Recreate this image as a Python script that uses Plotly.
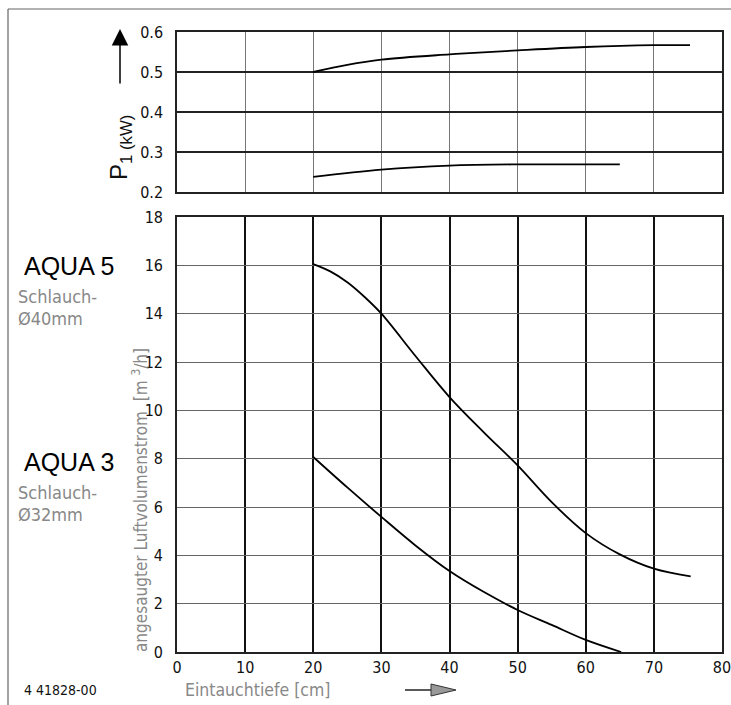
import plotly.graph_objects as go
from plotly.subplots import make_subplots

# ---- data ----
depth_aqua5 = [20, 22.5, 25, 27.5, 30, 35, 40, 45, 50, 55, 60, 65, 70, 75.4]
flow_aqua5 = [16.05, 15.75, 15.3, 14.7, 14.0, 12.25, 10.55, 9.1, 7.72, 6.2, 4.92, 4.04, 3.45, 3.13]
depth_aqua3 = [20, 25, 30, 35, 40, 45, 50, 55, 60, 65.2]
flow_aqua3 = [8.07, 6.81, 5.59, 4.41, 3.35, 2.49, 1.74, 1.12, 0.5, 0.0]

depth_p5 = [20, 25, 30, 40, 50, 60, 70, 75.3]
power_p5 = [0.50, 0.518, 0.531, 0.544, 0.554, 0.5625, 0.567, 0.567]
depth_p3 = [20, 30, 40, 50, 60, 65]
power_p3 = [0.238, 0.256, 0.266, 0.269, 0.269, 0.269]

x_ticks = [0, 10, 20, 30, 40, 50, 60, 70, 80]
flow_ticks = [0, 2, 4, 6, 8, 10, 12, 14, 16, 18]
power_ticks = [0.2, 0.3, 0.4, 0.5, 0.6]

W, H = 731, 705
L, R, T, B = 177, 9, 32, 53
PW, PH = W - L - R, H - T - B


def xp(px):
    return (px - L) / PW


def yp(py):
    return (H - B - py) / PH


FONT = "Liberation Sans Narrow, DejaVu Sans Condensed, Liberation Sans, sans-serif"

fig = make_subplots(rows=2, cols=1, shared_xaxes=False, vertical_spacing=0.04)

line_style = dict(color="black", width=1.8, shape="spline", smoothing=1.0)
fig.add_trace(go.Scatter(x=depth_p5, y=power_p5, mode="lines", line=line_style, showlegend=False), row=1, col=1)
fig.add_trace(go.Scatter(x=depth_p3, y=power_p3, mode="lines", line=line_style, showlegend=False), row=1, col=1)
fig.add_trace(go.Scatter(x=depth_aqua5, y=flow_aqua5, mode="lines", line=line_style, showlegend=False), row=2, col=1)
fig.add_trace(go.Scatter(x=depth_aqua3, y=flow_aqua3, mode="lines", line=line_style, showlegend=False), row=2, col=1)

tickfont = dict(family=FONT, size=16, color="#111")

fig.update_layout(
    width=W, height=H, autosize=False,
    margin=dict(l=L, r=R, t=T, b=B, autoexpand=False),
    paper_bgcolor="white", plot_bgcolor="white",
    xaxis=dict(domain=[0, 1], range=[0, 80], tickvals=x_ticks, showticklabels=False,
               showgrid=True, gridcolor="#777", gridwidth=1, zeroline=False, automargin=False,
               showline=True, linecolor="#222", linewidth=1.5, mirror=True, anchor="y"),
    yaxis=dict(domain=[yp(192), 1], range=[0.2, 0.6], tickvals=power_ticks,
               ticktext=["0.2", "0.3", "0.4", "0.5", "0.6"], automargin=False,
               showgrid=True, gridcolor="#222", gridwidth=1.5, zeroline=False,
               showline=True, linecolor="#222", linewidth=1.5, mirror=True,
               tickfont=tickfont, ticks="", ticklabelstandoff=9, anchor="x"),
    xaxis2=dict(domain=[0, 1], range=[0, 80], tickvals=x_ticks, automargin=False,
                ticklabeloverflow="allow",
                showgrid=True, gridcolor="#111", gridwidth=1.6, zeroline=False,
                showline=True, linecolor="#222", linewidth=1.6, mirror=True,
                tickfont=tickfont, ticks="", anchor="y2"),
    yaxis2=dict(domain=[0, yp(217)], range=[0, 18], tickvals=flow_ticks, automargin=False,
                showgrid=True, gridcolor="#666", gridwidth=1, zeroline=False,
                showline=True, linecolor="#222", linewidth=1.6, mirror=True,
                tickfont=tickfont, ticks="", ticklabelstandoff=9, anchor="x2"),
)

ann = []


def text(px, py, s, size, color="black", xanchor="left", angle=0, family=FONT):
    ann.append(dict(xref="paper", yref="paper", x=xp(px), y=yp(py), text=s,
                    showarrow=False, xanchor=xanchor, yanchor="middle", textangle=angle,
                    font=dict(family=family, size=size, color=color)))


SANS = "Liberation Sans, Arial, sans-serif"
text(22, 266, "AQUA 5", 25, "black", family=SANS)
text(22, 462, "AQUA 3", 25, "black", family=SANS)
text(16, 296, "Schlauch-", 18, "#888")
text(16, 318, "Ø40mm", 18, "#888")
text(16, 492, "Schlauch-", 18, "#888")
text(16, 514, "Ø32mm", 18, "#888")
text(140, 500, "angesaugter Luftvolumenstrom  [m <sup>3</sup>/h]", 17, "#888", xanchor="center", angle=-90)
text(120, 148, "P<sub>1 (kW)</sub>", 24, "#111", xanchor="center", angle=-90, family=SANS)
text(22, 690, "4 41828-00", 14, "#111")
text(183, 690, "Eintauchtiefe [cm]", 17.5, "#888")

# vertical arrow next to P1 label
ann.append(dict(xref="paper", yref="paper", x=xp(120), y=yp(29), ax=0, ay=56,
                axref="pixel", ayref="pixel", text="", showarrow=True,
                arrowhead=2, arrowsize=2.2, arrowwidth=1.5, arrowcolor="black"))
fig.update_layout(annotations=ann)

shapes = []
# outer frame (top and left)
shapes.append(dict(type="line", xref="paper", yref="paper", x0=xp(8), x1=xp(731), y0=yp(9), y1=yp(9),
                   line=dict(color="#666", width=1.2)))
shapes.append(dict(type="line", xref="paper", yref="paper", x0=xp(8), x1=xp(8), y0=yp(9), y1=yp(705),
                   line=dict(color="#666", width=1.2)))
# bottom arrow
shapes.append(dict(type="line", xref="paper", yref="paper", x0=xp(405), x1=xp(432), y0=yp(690), y1=yp(690),
                   line=dict(color="black", width=1.3)))
tri = "M {} {} L {} {} L {} {} Z".format(xp(431), yp(684), xp(456), yp(690), xp(431), yp(696))
shapes.append(dict(type="path", xref="paper", yref="paper", path=tri,
                   fillcolor="#999", line=dict(color="#333", width=1)))
fig.update_layout(shapes=shapes)

fig.write_html("out.html", config={"displayModeBar": False},
               post_script="document.body.style.margin='0';document.body.style.overflow='hidden';")
